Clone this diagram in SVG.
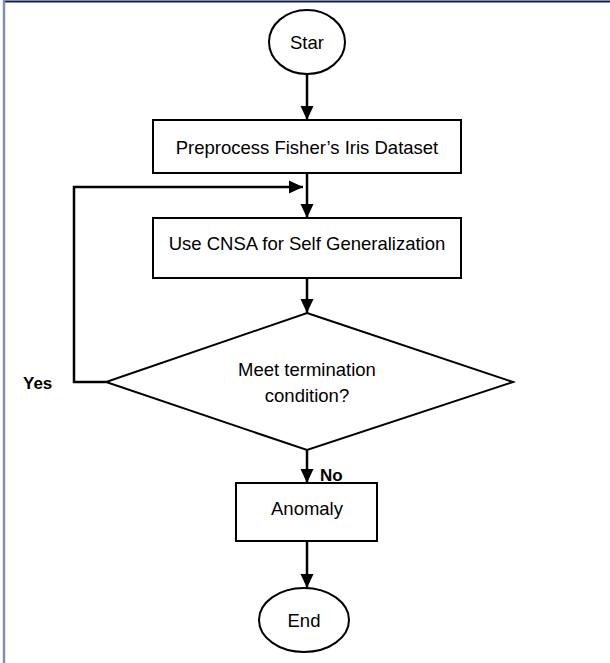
<svg xmlns="http://www.w3.org/2000/svg" width="610" height="663" viewBox="0 0 610 663">
<defs>
<marker id="ah" markerWidth="14" markerHeight="14" refX="14" refY="7" orient="auto" markerUnits="userSpaceOnUse" viewBox="0 0 14 14">
<path d="M0,0.5 L14,7 L0,13.5 z" fill="#000"/>
</marker>
<style>
.shape{fill:#fff;stroke:#000;stroke-width:2}
.conn{fill:none;stroke:#000;stroke-width:2.5}
.t{font-family:"Liberation Sans",Arial,sans-serif;font-size:18.5px;fill:#000;text-anchor:middle}
.b{font-family:"Liberation Sans",Arial,sans-serif;font-size:17px;font-weight:bold;fill:#000}
</style>
</defs>
<rect x="0" y="0" width="610" height="663" fill="#fff"/>
<line x1="4" y1="1.5" x2="610" y2="1.5" stroke="#0d1f4f" stroke-width="2"/>
<line x1="4" y1="0" x2="4" y2="663" stroke="#8090b4" stroke-width="2.5"/>
<g id="connectors">
<line class="conn" x1="307" y1="75" x2="307" y2="120" marker-end="url(#ah)"/>
<line class="conn" x1="307" y1="173" x2="307" y2="218" marker-end="url(#ah)"/>
<polyline class="conn" points="106,382 74,382 74,187 303,187" marker-end="url(#ah)"/>
<line class="conn" x1="307" y1="278" x2="307" y2="313" marker-end="url(#ah)"/>
<line class="conn" x1="307" y1="450" x2="307" y2="483" marker-end="url(#ah)"/>
<line class="conn" x1="307" y1="541" x2="307" y2="588" marker-end="url(#ah)"/>
<text class="b" x="23" y="389">Yes</text>
<text class="b" x="320" y="481">No</text>
</g>
<g id="start">
<ellipse class="shape" cx="307" cy="42" rx="38" ry="32"/>
<text class="t" x="307" y="49">Star</text>
</g>
<g id="preprocess">
<rect class="shape" x="153" y="120" width="308" height="53"/>
<text class="t" x="307" y="154">Preprocess Fisher’s Iris Dataset</text>
</g>
<g id="cnsa">
<rect class="shape" x="153" y="218" width="308" height="60"/>
<text class="t" x="307" y="250">Use CNSA for Self Generalization</text>
</g>
<g id="decision">
<polygon class="shape" points="307,313 513,382 307,450 106,382"/>
<text class="t" x="307" y="376">Meet termination</text>
<text class="t" x="307" y="402">condition?</text>
</g>
<g id="anomaly">
<rect class="shape" x="236" y="483" width="141" height="58"/>
<text class="t" x="307" y="515">Anomaly</text>
</g>
<g id="end">
<ellipse class="shape" cx="304" cy="620" rx="45" ry="32"/>
<text class="t" x="304" y="627">End</text>
</g>
</svg>
